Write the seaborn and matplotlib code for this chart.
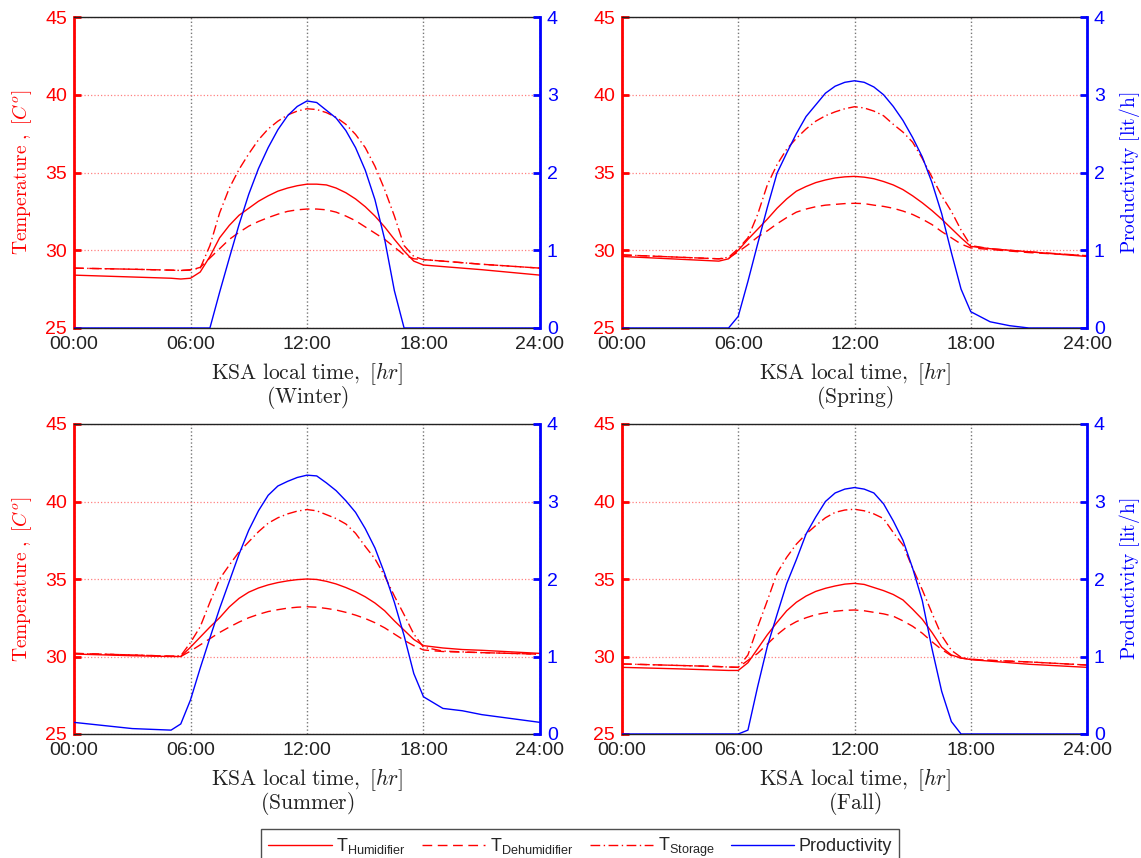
import matplotlib
matplotlib.use('Agg')
import matplotlib.pyplot as plt
import seaborn as sns
from matplotlib.lines import Line2D

sns.set_theme(style='white')
plt.rcParams['font.family'] = ['Liberation Sans', 'DejaVu Sans']
plt.rcParams['mathtext.fontset'] = 'custom'
plt.rcParams['mathtext.rm'] = 'Liberation Sans'
plt.rcParams['mathtext.it'] = 'Liberation Sans:italic'

# hours of the day (same grid for every season)
hours = [0, 3, 5, 5.5, 6, 6.5, 7, 7.5, 8, 8.5, 9, 9.5, 10, 10.5, 11, 11.5, 12, 12.5,
         13, 13.5, 14, 14.5, 15, 15.5, 16, 16.5, 17, 17.5, 18, 19, 20, 21, 24]

# Winter
winter_hum = [28.4, 28.28, 28.2, 28.15, 28.2, 28.6, 29.6, 30.8, 31.6, 32.25, 32.7, 33.15, 33.5, 33.8, 34.0, 34.15, 34.25, 34.25,
              34.2, 34.0, 33.7, 33.3, 32.8, 32.2, 31.5, 30.7, 29.95, 29.3, 29.05, 28.95, 28.85, 28.75, 28.4]
winter_dehum = [28.85, 28.78, 28.72, 28.7, 28.72, 28.9, 29.5, 30.1, 30.7, 31.15, 31.55, 31.85, 32.1, 32.32, 32.5, 32.6, 32.65, 32.65,
                32.6, 32.45, 32.2, 31.9, 31.5, 31.1, 30.7, 30.2, 29.7, 29.45, 29.4, 29.3, 29.2, 29.1, 28.85]
winter_store = [28.85, 28.78, 28.72, 28.7, 28.75, 28.85, 30.3, 32.4, 34.0, 35.2, 36.2, 37.1, 37.8, 38.3, 38.7, 38.95, 39.1, 39.05,
                38.85, 38.55, 38.1, 37.45, 36.6, 35.4, 33.9, 32.2, 30.3, 29.6, 29.4, 29.3, 29.2, 29.1, 28.85]
winter_prod = [0, 0, 0, 0, 0, 0, 0.0, 0.46, 0.9, 1.33, 1.72, 2.05, 2.32, 2.55, 2.73, 2.85, 2.92, 2.9,
               2.8, 2.7, 2.54, 2.32, 2.03, 1.65, 1.14, 0.48, 0.0, 0, 0, 0, 0, 0, 0]

# Spring
spring_hum = [29.6, 29.42, 29.3, 29.45, 30.0, 30.7, 31.35, 32.0, 32.7, 33.3, 33.8, 34.1, 34.35, 34.52, 34.65, 34.72, 34.75, 34.7,
              34.6, 34.42, 34.2, 33.9, 33.5, 33.05, 32.55, 32.0, 31.4, 30.8, 30.25, 30.1, 30.0, 29.9, 29.6]
spring_dehum = [29.7, 29.55, 29.45, 29.5, 29.9, 30.35, 30.85, 31.25, 31.7, 32.1, 32.45, 32.65, 32.8, 32.9, 32.95, 33.0, 33.02, 33.0,
                32.9, 32.82, 32.7, 32.52, 32.3, 32.0, 31.65, 31.2, 30.8, 30.4, 30.15, 30.05, 29.95, 29.85, 29.65]
spring_store = [29.7, 29.55, 29.45, 29.55, 30.1, 30.8, 32.3, 34.2, 35.5, 36.5, 37.2, 37.8, 38.3, 38.65, 38.9, 39.1, 39.23, 39.15,
                38.95, 38.65, 38.1, 37.6, 36.95, 35.9, 34.7, 33.5, 32.5, 31.3, 30.3, 30.1, 30.0, 29.9, 29.65]
spring_prod = [0, 0, 0, 0, 0.15, 0.6, 1.08, 1.55, 1.99, 2.25, 2.5, 2.72, 2.87, 3.02, 3.11, 3.16, 3.18, 3.16,
               3.1, 3.0, 2.85, 2.67, 2.45, 2.2, 1.87, 1.47, 0.97, 0.5, 0.21, 0.08, 0.03, 0.0, 0]

# Summer
summer_hum = [30.16, 30.05, 30.0, 30.0, 30.6, 31.25, 31.9, 32.5, 33.2, 33.75, 34.15, 34.42, 34.62, 34.77, 34.88, 34.96, 35.0, 34.97,
              34.85, 34.68, 34.45, 34.18, 33.85, 33.45, 32.95, 32.3, 31.7, 31.1, 30.7, 30.55, 30.45, 30.4, 30.2]
summer_dehum = [30.2, 30.1, 30.02, 30.0, 30.35, 30.75, 31.15, 31.55, 31.9, 32.22, 32.5, 32.72, 32.9, 33.02, 33.12, 33.18, 33.21, 33.18,
                33.1, 33.0, 32.85, 32.67, 32.45, 32.18, 31.85, 31.45, 31.05, 30.7, 30.42, 30.32, 30.28, 30.25, 30.15]
summer_store = [30.2, 30.1, 30.02, 30.05, 30.9, 31.92, 33.5, 35.0, 35.9, 36.75, 37.4, 38.05, 38.6, 38.95, 39.2, 39.38, 39.48, 39.4,
                39.15, 38.9, 38.55, 37.95, 37.1, 36.3, 35.2, 33.9, 32.7, 31.45, 30.6, 30.35, 30.3, 30.25, 30.15]
summer_prod = [0.15, 0.07, 0.05, 0.13, 0.44, 0.85, 1.24, 1.62, 1.97, 2.32, 2.63, 2.88, 3.08, 3.2, 3.26, 3.31, 3.34, 3.33,
               3.24, 3.14, 3.01, 2.86, 2.65, 2.4, 2.07, 1.7, 1.27, 0.78, 0.48, 0.33, 0.3, 0.25, 0.15]

# Fall
fall_hum = [29.3, 29.2, 29.12, 29.1, 29.1, 29.6, 30.5, 31.4, 32.2, 32.95, 33.5, 33.9, 34.2, 34.4, 34.55, 34.67, 34.72, 34.65,
            34.45, 34.25, 34.0, 33.65, 33.05, 32.4, 31.55, 30.6, 30.1, 29.9, 29.8, 29.7, 29.6, 29.5, 29.3]
fall_dehum = [29.52, 29.42, 29.35, 29.32, 29.3, 29.75, 30.2, 30.8, 31.4, 31.9, 32.25, 32.5, 32.7, 32.82, 32.92, 32.98, 33.0, 32.95,
              32.85, 32.75, 32.6, 32.3, 31.95, 31.5, 30.95, 30.45, 30.05, 29.9, 29.82, 29.75, 29.7, 29.65, 29.45]
fall_store = [29.52, 29.42, 29.35, 29.32, 29.3, 30.1, 31.9, 33.6, 35.37, 36.4, 37.25, 37.9, 38.45, 38.95, 39.3, 39.45, 39.5, 39.4,
              39.2, 38.9, 38.0, 37.2, 35.7, 34.3, 32.8, 31.35, 30.4, 29.95, 29.82, 29.75, 29.7, 29.65, 29.45]
fall_prod = [0, 0, 0, 0, 0, 0.05, 0.61, 1.13, 1.54, 1.94, 2.25, 2.58, 2.8, 3.0, 3.11, 3.16, 3.18, 3.16,
             3.11, 2.97, 2.75, 2.5, 2.14, 1.72, 1.1, 0.55, 0.16, 0.0, 0, 0, 0, 0, 0]

seasons = ['Winter', 'Spring', 'Summer', 'Fall']
series = [
    (winter_hum, winter_dehum, winter_store, winter_prod),
    (spring_hum, spring_dehum, spring_store, spring_prod),
    (summer_hum, summer_dehum, summer_store, summer_prod),
    (fall_hum, fall_dehum, fall_store, fall_prod),
]
xtick_labels = ['00:00', '06:00', '12:00', '18:00', '24:00']

W, H = 1141, 858
# axes boxes in pixels: left, top, right, bottom
boxes = [(74, 17, 540, 328), (622, 17, 1087, 328),
         (74, 424, 540, 734), (622, 424, 1087, 734)]

fig = plt.figure(figsize=(W / 100, H / 100), dpi=100)

dash = (7, 4)
dashdot = (7, 2.5, 1, 2.5)

for i, (season, (hum, dehum, store, prod)) in enumerate(zip(seasons, series)):
    l, t, r, b = boxes[i]
    ax = fig.add_axes([l / W, 1 - b / H, (r - l) / W, (b - t) / H])
    ax2 = ax.twinx()

    sns.lineplot(x=hours, y=hum, ax=ax, color='red', lw=1)
    sns.lineplot(x=hours, y=dehum, ax=ax, color='red', lw=1, dashes=False, linestyle=(0, dash))
    sns.lineplot(x=hours, y=store, ax=ax, color='red', lw=1, dashes=False, linestyle=(0, dashdot))
    sns.lineplot(x=hours, y=prod, ax=ax2, color='blue', lw=1)

    ax.set_xlim(0, 24)
    ax.set_ylim(25, 45)
    ax2.set_ylim(0, 4)
    ax.set_xticks([0, 6, 12, 18, 24])
    ax.set_xticklabels(xtick_labels)
    ax.set_yticks([25, 30, 35, 40, 45])
    ax2.set_yticks([0, 1, 2, 3, 4])

    ax.grid(True, axis='y', color='#ff8080', linestyle=':', lw=0.9)
    ax.grid(True, axis='x', color='#777777', linestyle=':', lw=1.0)

    ax.tick_params(axis='y', colors='red', direction='in', length=5, width=2, labelsize=14, pad=5)
    ax.tick_params(axis='x', colors='#222222', direction='in', length=5, width=1.5, labelsize=14, pad=6)
    ax2.tick_params(axis='y', colors='blue', direction='in', length=5, width=2, labelsize=14, pad=5)

    ax.spines['left'].set_color('red')
    ax.spines['left'].set_linewidth(2)
    ax.spines['right'].set_visible(False)
    ax.spines['top'].set_color('#222222')
    ax.spines['bottom'].set_color('#222222')
    ax.spines['top'].set_linewidth(1)
    ax.spines['bottom'].set_linewidth(1)
    for s in ['left', 'top', 'bottom']:
        ax2.spines[s].set_visible(False)
    ax2.spines['right'].set_color('blue')
    ax2.spines['right'].set_linewidth(2)

    ax.set_xlabel(r'$\mathrm{KSA\ local\ time,\ }[hr]$' + '\n' + r'$\mathrm{(' + season + ')}$',
                  fontsize=15.5, color='#222222', math_fontfamily='cm', linespacing=0.82)
    ax.xaxis.set_label_coords(0.5, -0.105)

    if i % 2 == 0:
        ax.set_ylabel(r'$\mathrm{Temperature\ ,\ }[C^o]$', fontsize=14, color='red', math_fontfamily='cm')
        ax.yaxis.set_label_coords(-0.086, 0.5)
    else:
        ax.set_ylabel('')
    if i % 2 == 1:
        ax2.set_ylabel(r'$\mathrm{Productivity\ [lit/h]}$', fontsize=14, color='blue', math_fontfamily='cm')
        ax2.yaxis.set_label_coords(1.064, 0.5)
    else:
        ax2.set_ylabel('')

handles = [
    Line2D([], [], color='red', lw=1),
    Line2D([], [], color='red', lw=1, linestyle=(0, dash)),
    Line2D([], [], color='red', lw=1, linestyle=(0, dashdot)),
    Line2D([], [], color='blue', lw=1),
]
labels = [r'T$_{\mathrm{Humidifier}}$', r'T$_{\mathrm{Dehumidifier}}$', r'T$_{\mathrm{Storage}}$', 'Productivity']
leg = fig.legend(handles, labels, loc='upper center', bbox_to_anchor=(580 / W, 1 - 829 / H), ncol=4,
                 fontsize=13, handlelength=3.5, handletextpad=0.25, columnspacing=0.9,
                 frameon=True, fancybox=False, edgecolor='#222222', borderaxespad=0, borderpad=0.4)
leg.get_frame().set_linewidth(1)

fig.savefig('out.png', dpi=100)
